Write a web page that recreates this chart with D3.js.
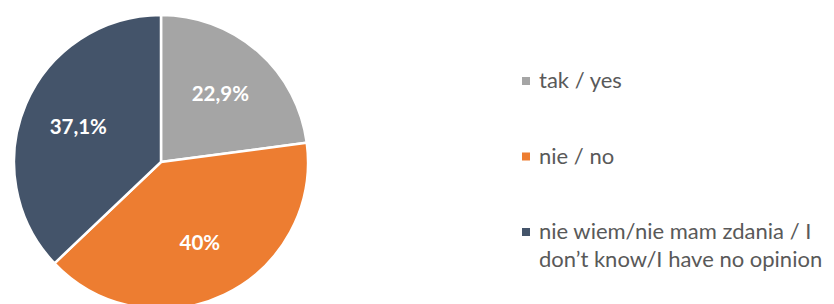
<!DOCTYPE html>
<html>
<head>
<meta charset="utf-8">
<script src="https://cdn.jsdelivr.net/npm/d3@7"></script>
<style>
  body { margin: 0; background: #fff; }
  svg { display: block; }
</style>
</head>
<body>
<svg id="chart"></svg>
<script>
const categories = ["tak / yes", "nie / no", "nie wiem/nie mam zdania / I don\u2019t know/I have no opinion"];
const values = [22.9, 40, 37.1];
const valueLabels = ["22,9%", "40%", "37,1%"];
const colors = ["#A5A5A5", "#ED7D31", "#44546A"];
const legendLines = [["tak / yes"], ["nie / no"], ["nie wiem/nie mam zdania / I", "don\u2019t know/I have no opinion"]];

const width = 834,
  height = 304,
  radius = 147;

const svg = d3.select("#chart").attr("width", width).attr("height", height);

const color = d3.scaleOrdinal().domain(categories).range(colors);

const pie = d3.pie().sort(null).value((d, i) => values[i]);
const data_ready = pie(categories);

const arcGenerator = d3.arc().innerRadius(0).outerRadius(radius);
const labelArc = d3.arc().innerRadius(90).outerRadius(90);

const g = svg.append("g").attr("transform", "translate(161, 162)");

g.selectAll("path.slice")
  .data(data_ready)
  .join("path")
  .attr("class", "slice")
  .attr("d", arcGenerator)
  .attr("fill", (d) => color(d.data))
  .attr("stroke", "#fff")
  .style("stroke-width", "2.5px");

g.selectAll("text.label")
  .data(data_ready)
  .join("text")
  .attr("class", "label")
  .text((d) => valueLabels[d.index])
  .attr("transform", (d) => `translate(${labelArc.centroid(d)})`)
  .attr("dy", "0.35em")
  .style("text-anchor", "middle")
  .style("font-family", "Lato, 'Open Sans', sans-serif")
  .style("font-weight", "bold")
  .style("font-size", "20.5px")
  .attr("fill", "#fff");

// legend
const legendY = d3.scalePoint().domain(categories).range([81, 232]);

const legend = svg
  .append("g")
  .selectAll("g")
  .data(categories)
  .join("g")
  .attr("transform", (d) => `translate(522, ${legendY(d)})`);

legend
  .append("rect")
  .attr("x", 0)
  .attr("y", -4)
  .attr("width", 8)
  .attr("height", 8)
  .attr("fill", (d) => color(d));

legend
  .append("text")
  .attr("fill", "#595959")
  .style("font-family", "Lato, 'Open Sans', sans-serif")
  .style("font-size", "22px")
  .selectAll("tspan")
  .data((d, i) => legendLines[i])
  .join("tspan")
  .attr("x", 17)
  .attr("y", (d, i) => 7 + i * 28)
  .text((d) => d);
</script>
</body>
</html>
